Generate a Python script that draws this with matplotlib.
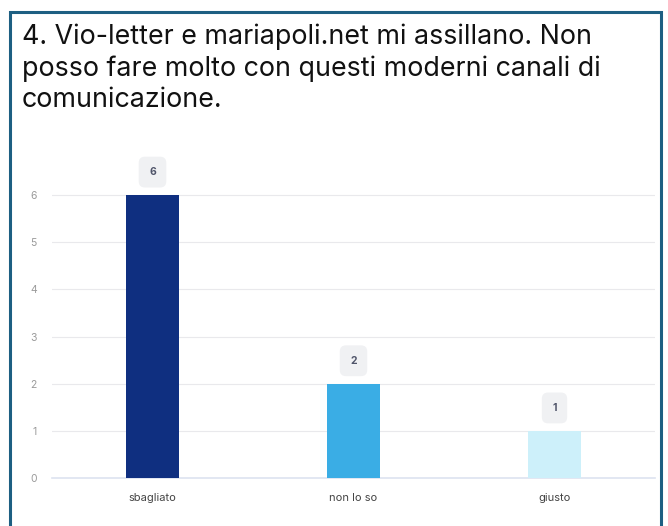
import matplotlib
matplotlib.use("Agg")
import matplotlib.pyplot as plt
from matplotlib.patches import Rectangle

categories = ["sbagliato", "non lo so", "giusto"]
values = [6, 2, 1]
colors = ["#0f2f80", "#3aade5", "#cdf0fa"]
yticks = [0, 1, 2, 3, 4, 5, 6]
title = "4. Vio-letter e mariapoli.net mi assillano. Non\nposso fare molto con questi moderni canali di\ncomunicazione."

W, H = 668, 526
fig = plt.figure(figsize=(W / 100, H / 100), dpi=100)
fig.patch.set_facecolor("white")

# frame
fig.patches.append(Rectangle((10 / W, -0.05), 651 / W, 1.05 - 12 / H,
                             transform=fig.transFigure, fill=False,
                             edgecolor="#1d5f82", linewidth=2.2, zorder=10))

fig.text(22 / W, 1 - 24 / H, title, ha="left", va="top",
         fontsize=19.3, family="Inter", color="#111111",
         linespacing=1.25)

ax = fig.add_axes([52 / W, 1 - 478 / H, 603 / W, (478 - 162) / H])
x = list(range(len(categories)))
ax.bar(x, values, width=0.26, color=colors, zorder=3)
ax.set_xlim(-0.5, 2.5)
ax.set_ylim(0, 6.7)
ax.set_yticks(yticks)
ax.set_xticks(x)
ax.set_xticklabels(categories, fontsize=8, color="#444444", family="Inter")
ax.tick_params(axis="y", length=0, pad=11, labelsize=7.5, labelcolor="#9a9a9a")
for lbl in ax.get_yticklabels():
    lbl.set_family("Inter")
ax.tick_params(axis="x", length=0, pad=11)
for s in ["top", "right", "left"]:
    ax.spines[s].set_visible(False)
ax.spines["bottom"].set_color("#dde3f0")
ax.spines["bottom"].set_linewidth(1.2)
ax.grid(axis="y", color="#e9e9ec", linewidth=0.8, zorder=0)
ax.set_axisbelow(True)

for xi, v in zip(x, values):
    ax.annotate(str(v), (xi, v), xytext=(0, 16.5), textcoords="offset points",
                ha="center", va="center", fontsize=7.5, fontweight="bold",
                color="#50556a", family="Inter",
                bbox=dict(boxstyle="round,pad=1.0,rounding_size=0.6",
                          facecolor="#f0f1f3", edgecolor="none"),
                annotation_clip=False)

fig.savefig("out.png", dpi=100, facecolor="white")
